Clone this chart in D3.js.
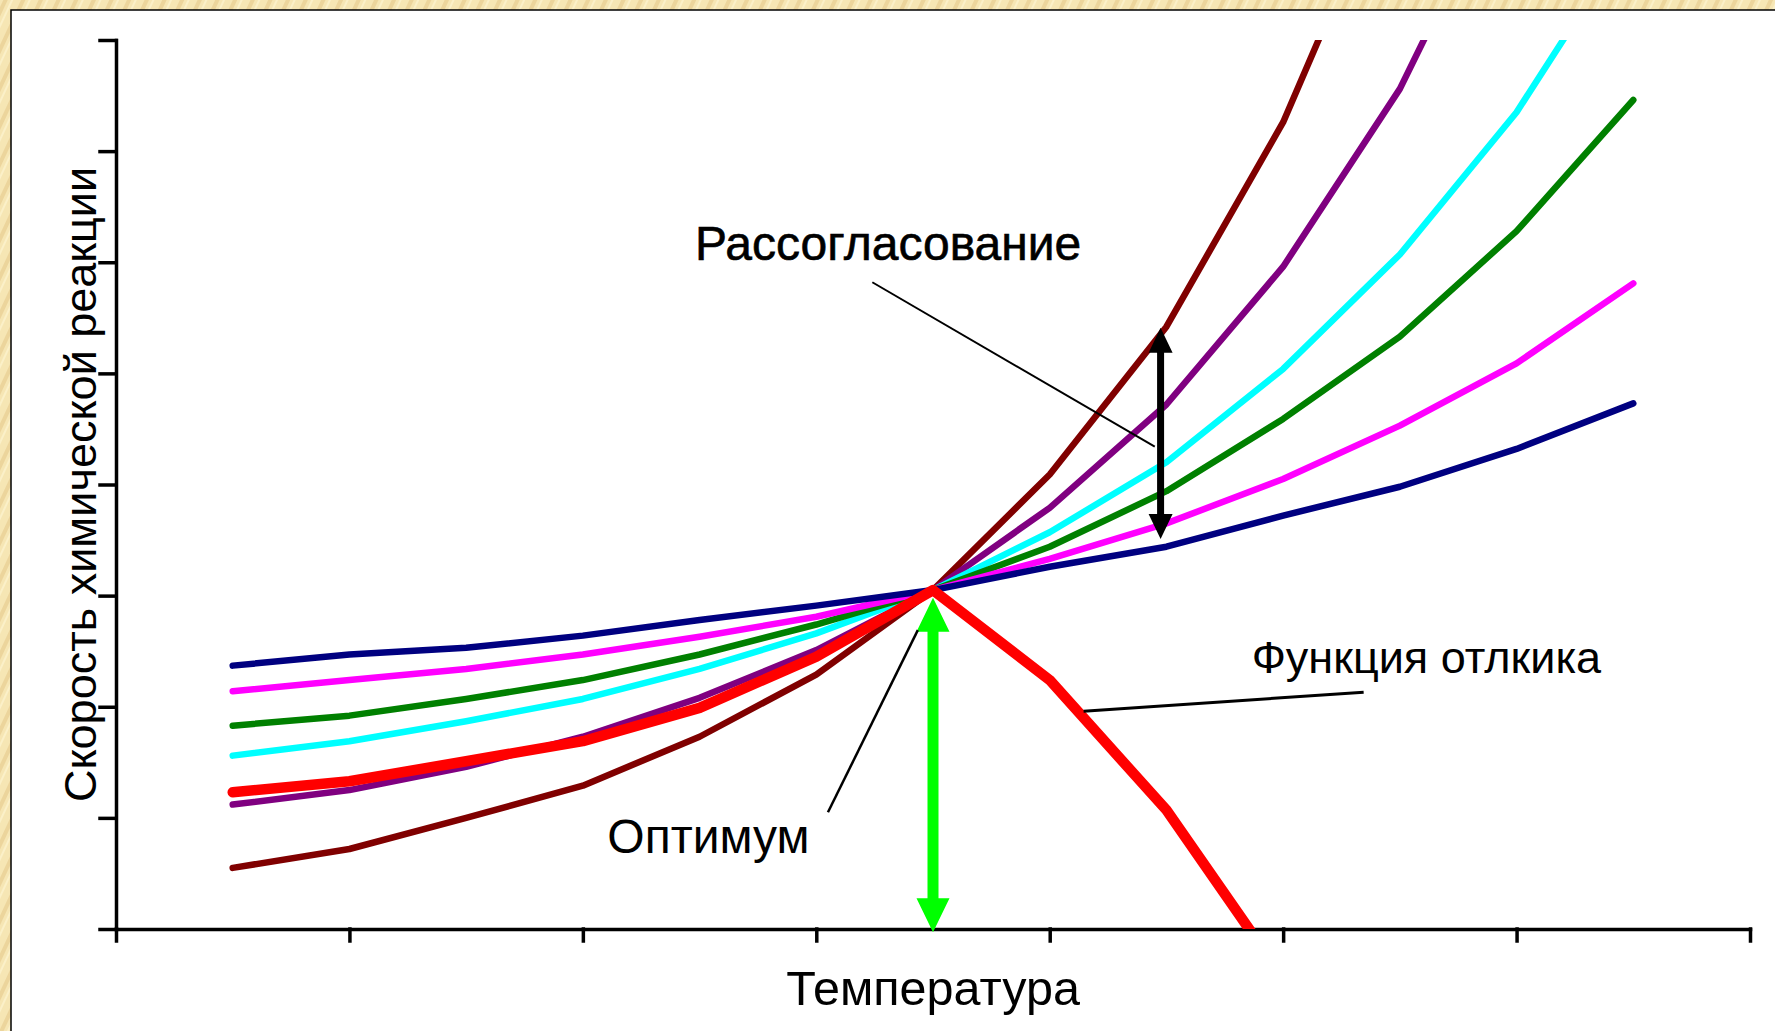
<!DOCTYPE html>
<html>
<head>
<meta charset="utf-8">
<script src="https://cdn.jsdelivr.net/npm/d3@7"></script>
<style>
  body { margin: 0; }
  svg { display: block; }
  text { font-family: "Liberation Sans", Arial, sans-serif; fill: #000; }
</style>
</head>
<body>
<svg id="chart"></svg>
<script>
// Chart dimensions
const width = 1775;
const height = 1031;
const margin = { left: 116, right: 25, top: 40, bottom: 102 };

// Data: temperature steps (x) and reaction rate of each curve (y)
const temps = [1, 2, 3, 4, 5, 6, 7, 8, 9, 10, 11, 12, 13];
const navy    = [2.37, 2.47, 2.53, 2.64, 2.78, 2.91, 3.05, 3.26, 3.44, 3.72, 3.98, 4.32, 4.73];
const magenta = [2.14, 2.24, 2.34, 2.47, 2.63, 2.81, 3.05, 3.33, 3.65, 4.05, 4.53, 5.09, 5.81];
const green   = [1.83, 1.92, 2.07, 2.24, 2.47, 2.74, 3.05, 3.44, 3.94, 4.59, 5.33, 6.28, 7.46];
const cyan    = [1.56, 1.69, 1.87, 2.07, 2.34, 2.66, 3.05, 3.57, 4.20, 5.04, 6.07, 7.35, 8.98];
const purple  = [1.12, 1.25, 1.46, 1.73, 2.08, 2.51, 3.05, 3.79, 4.72, 5.96, 7.56, 9.70];
const maroon  = [0.55, 0.72, 1.00, 1.29, 1.73, 2.29, 3.05, 4.09, 5.42, 7.26, 9.70];
const response = [1.23, 1.33, 1.51, 1.69, 1.99, 2.45, 3.05, 2.24, 1.07, -0.44];

// Axis ticks (no labels on the original)
const xTicks = [0, 2, 4, 6, 8, 10, 12, 14];
const yTicks = [0, 1, 2, 3, 4, 5, 6, 7, 8];

// Texts
const xTitle = "Температура";
const yTitle = "Скорость химической реакции";
const labelMismatch = "Рассогласование";
const labelResponse = "Функция отлкика";
const labelOptimum = "Оптимум";

// Drawing order: back to front
const series = [
  { name: "maroon", values: maroon, color: "#800000", w: 6.5 },
  { name: "purple", values: purple, color: "#800080", w: 6.5 },
  { name: "cyan", values: cyan, color: "#00ffff", w: 6.5 },
  { name: "green", values: green, color: "#008000", w: 6.5 },
  { name: "magenta", values: magenta, color: "#ff00ff", w: 6.5 },
  { name: "navy", values: navy, color: "#000080", w: 6.5 },
  { name: "response", values: response, color: "#ff0000", w: 10.5 }
];

const svg = d3.select("#chart")
  .attr("width", width)
  .attr("height", height);

// Beige textured frame behind the white slide
const defs = svg.append("defs");
const pat = defs.append("pattern")
  .attr("id", "paper")
  .attr("patternUnits", "userSpaceOnUse")
  .attr("width", 16)
  .attr("height", 16)
  .attr("patternTransform", "rotate(25)");
pat.append("rect").attr("width", 16).attr("height", 16).attr("fill", "#f6e6b4");
pat.append("rect").attr("x", 3).attr("width", 4).attr("height", 16).attr("fill", "#ecd59c");
pat.append("rect").attr("x", 10).attr("width", 2).attr("height", 16).attr("fill", "#fbf0c8");

svg.append("rect")
  .attr("width", width)
  .attr("height", height)
  .attr("fill", "url(#paper)");

svg.append("rect")
  .attr("x", 11)
  .attr("y", 10)
  .attr("width", width)
  .attr("height", height)
  .attr("fill", "#fff")
  .attr("stroke", "#000")
  .attr("stroke-width", 1.5);

// Scales
const xScale = d3.scaleLinear()
  .domain([0, 14])
  .range([margin.left, width - margin.right]);

const yScale = d3.scaleLinear()
  .domain([0, 8])
  .range([height - margin.bottom, margin.top]);

// Clip lines to plot area
defs.append("clipPath")
  .attr("id", "plot-clip")
  .append("rect")
  .attr("x", xScale(0))
  .attr("y", yScale(8))
  .attr("width", xScale(14) - xScale(0))
  .attr("height", yScale(0) - yScale(8));

// Axes
const xAxis = d3.axisBottom(xScale).tickValues(xTicks).tickSize(12).tickSizeOuter(0).tickFormat("");
const yAxis = d3.axisLeft(yScale).tickValues(yTicks).tickSize(16).tickSizeOuter(0).tickFormat("");

const gx = svg.append("g")
  .attr("transform", `translate(0, ${yScale(0)})`)
  .call(xAxis);

const gy = svg.append("g")
  .attr("transform", `translate(${xScale(0)}, 0)`)
  .call(yAxis);

[gx, gy].forEach(g => {
  g.selectAll("path, line")
    .attr("stroke", "#000")
    .attr("stroke-width", 3.5)
    .attr("stroke-linecap", "square");
});

// Curves
const line = d3.line()
  .x((d, i) => xScale(temps[i]))
  .y(d => yScale(d));

svg.append("g")
  .attr("clip-path", "url(#plot-clip)")
  .selectAll("path")
  .data(series)
  .enter()
  .append("path")
  .attr("d", d => line(d.values))
  .attr("fill", "none")
  .attr("stroke", d => d.color)
  .attr("stroke-width", d => d.w)
  .attr("stroke-linecap", "round")
  .attr("stroke-linejoin", "round");

// Double-headed arrow between two data points (x, y0 -> y1)
function doubleArrow(x, y0, y1, shaft, headW, headL, color) {
  const px = xScale(x);
  const top = yScale(y0);
  const bot = yScale(y1);
  const p = d3.path();
  p.moveTo(px, top);
  p.lineTo(px + headW / 2, top + headL);
  p.lineTo(px + shaft / 2, top + headL);
  p.lineTo(px + shaft / 2, bot - headL);
  p.lineTo(px + headW / 2, bot - headL);
  p.lineTo(px, bot);
  p.lineTo(px - headW / 2, bot - headL);
  p.lineTo(px - shaft / 2, bot - headL);
  p.lineTo(px - shaft / 2, top + headL);
  p.lineTo(px - headW / 2, top + headL);
  p.closePath();
  svg.append("path").attr("d", p.toString()).attr("fill", color);
}

doubleArrow(7, 2.98, -0.03, 11, 33, 34, "#00ff00");
doubleArrow(8.95, 5.41, 3.51, 7, 24, 25, "#000");

// Leader lines from labels
const leaders = [
  { from: [6.48, 5.82], to: [8.90, 4.34], w: 2 },
  { from: [6.10, 1.05], to: [6.87, 2.69], w: 2.5 },
  { from: [10.69, 2.13], to: [8.29, 1.96], w: 3 }
];

svg.selectAll(".leader")
  .data(leaders)
  .enter()
  .append("line")
  .attr("class", "leader")
  .attr("x1", d => xScale(d.from[0]))
  .attr("y1", d => yScale(d.from[1]))
  .attr("x2", d => xScale(d.to[0]))
  .attr("y2", d => yScale(d.to[1]))
  .attr("stroke", "#000")
  .attr("stroke-width", d => d.w);

// Annotation labels
const notes = [
  { text: labelMismatch, x: 4.96, y: 6.02, size: 48, stroke: 0.6 },
  { text: labelResponse, x: 9.73, y: 2.30, size: 45, stroke: 0 },
  { text: labelOptimum, x: 4.21, y: 0.68, size: 48, stroke: 0 }
];

svg.selectAll(".note")
  .data(notes)
  .enter()
  .append("text")
  .attr("class", "note")
  .attr("x", d => xScale(d.x))
  .attr("y", d => yScale(d.y))
  .attr("stroke", "#000")
  .attr("stroke-width", d => d.stroke)
  .style("font-size", d => d.size + "px")
  .text(d => d.text);

// Axis titles
svg.append("text")
  .attr("x", (xScale(0) + xScale(14)) / 2)
  .attr("y", 1005)
  .attr("text-anchor", "middle")
  .style("font-size", "48.5px")
  .text(xTitle);

svg.append("text")
  .attr("transform", `translate(96, ${(yScale(0) + yScale(8)) / 2}) rotate(-90)`)
  .attr("text-anchor", "middle")
  .style("font-size", "45px")
  .text(yTitle);
</script>
</body>
</html>
